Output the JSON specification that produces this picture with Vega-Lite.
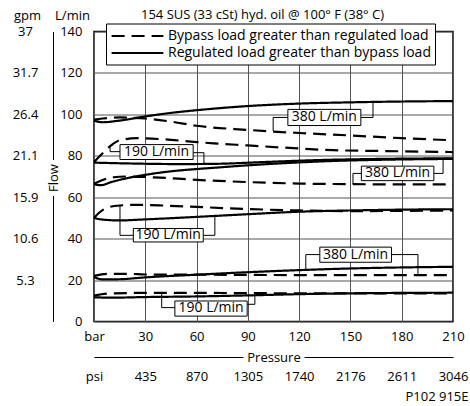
{
 "$schema": "https://vega.github.io/schema/vega-lite/v6.json",
 "width": 359, "height": 290,
 "autosize": {"type": "none"},
 "padding": {"left": 94, "top": 31.5, "right": 17, "bottom": 84.5},
 "background": "white",
 "config": {
  "font": "Open Sans",
  "view": {"stroke": "black", "strokeWidth": 1.5},
  "axis": {"labelFontSize": 13, "labelColor": "black", "titleFontSize": 13, "titleFontWeight": "normal", "titleColor": "black", "labelFlush": false, "labelOverlap": false, "labelBound": false, "ticks": false}
 },
 "title": {"text": "154 SUS (33 cSt) hyd. oil @ 100° F (38° C)", "fontSize": 13, "fontWeight": "normal", "color": "black", "anchor": "middle", "dx": -11, "dy": 16, "frame": "group", "offset": 4},
 "datasets": {
  "curves": [
   {"s":"A_s","t":"R","b":0,"f":97},{"s":"A_s","t":"R","b":5,"f":96.2},{"s":"A_s","t":"R","b":15,"f":97},{"s":"A_s","t":"R","b":30,"f":99},{"s":"A_s","t":"R","b":45,"f":100.7},{"s":"A_s","t":"R","b":60,"f":102},{"s":"A_s","t":"R","b":90,"f":104},{"s":"A_s","t":"R","b":120,"f":105.2},{"s":"A_s","t":"R","b":150,"f":105.8},{"s":"A_s","t":"R","b":180,"f":106.2},{"s":"A_s","t":"R","b":210,"f":106.4},
   {"s":"A_d","t":"B","b":0,"f":97.5},{"s":"A_d","t":"B","b":5,"f":98},{"s":"A_d","t":"B","b":15,"f":98.5},{"s":"A_d","t":"B","b":30,"f":98},{"s":"A_d","t":"B","b":45,"f":96.5},{"s":"A_d","t":"B","b":60,"f":94.5},{"s":"A_d","t":"B","b":90,"f":92.5},{"s":"A_d","t":"B","b":120,"f":91},{"s":"A_d","t":"B","b":150,"f":89.8},{"s":"A_d","t":"B","b":180,"f":88.5},{"s":"A_d","t":"B","b":210,"f":87.5},
   {"s":"B_d","t":"B","b":0,"f":77},{"s":"B_d","t":"B","b":3,"f":79.5},{"s":"B_d","t":"B","b":6,"f":82},{"s":"B_d","t":"B","b":10,"f":85},{"s":"B_d","t":"B","b":15,"f":87.5},{"s":"B_d","t":"B","b":25,"f":88.5},{"s":"B_d","t":"B","b":40,"f":88},{"s":"B_d","t":"B","b":55,"f":87},{"s":"B_d","t":"B","b":70,"f":86},{"s":"B_d","t":"B","b":90,"f":85},{"s":"B_d","t":"B","b":110,"f":84},{"s":"B_d","t":"B","b":140,"f":82.7},{"s":"B_d","t":"B","b":170,"f":82.3},{"s":"B_d","t":"B","b":210,"f":81.8},
   {"s":"B_s","t":"R","b":0,"f":76.7},{"s":"B_s","t":"R","b":20,"f":76.3},{"s":"B_s","t":"R","b":50,"f":76},{"s":"B_s","t":"R","b":70,"f":76.1},{"s":"B_s","t":"R","b":100,"f":77},{"s":"B_s","t":"R","b":130,"f":77.9},{"s":"B_s","t":"R","b":160,"f":78.4},{"s":"B_s","t":"R","b":210,"f":78.8},
   {"s":"C_s","t":"R","b":0,"f":66.3},{"s":"C_s","t":"R","b":4,"f":65.8},{"s":"C_s","t":"R","b":10,"f":67.3},{"s":"C_s","t":"R","b":20,"f":69.3},{"s":"C_s","t":"R","b":30,"f":70.8},{"s":"C_s","t":"R","b":45,"f":72.5},{"s":"C_s","t":"R","b":60,"f":73.6},{"s":"C_s","t":"R","b":70,"f":74.2},{"s":"C_s","t":"R","b":90,"f":75.4},{"s":"C_s","t":"R","b":120,"f":76.8},{"s":"C_s","t":"R","b":140,"f":77.5},{"s":"C_s","t":"R","b":170,"f":78.1},{"s":"C_s","t":"R","b":210,"f":78.5},
   {"s":"C_d","t":"B","b":0,"f":66.5},{"s":"C_d","t":"B","b":5,"f":68.3},{"s":"C_d","t":"B","b":10,"f":69.5},{"s":"C_d","t":"B","b":20,"f":70},{"s":"C_d","t":"B","b":35,"f":69.6},{"s":"C_d","t":"B","b":60,"f":68.4},{"s":"C_d","t":"B","b":90,"f":67.3},{"s":"C_d","t":"B","b":120,"f":66.6},{"s":"C_d","t":"B","b":150,"f":66.3},{"s":"C_d","t":"B","b":180,"f":66.2},{"s":"C_d","t":"B","b":210,"f":66.2},
   {"s":"D_s","t":"R","b":0,"f":50},{"s":"D_s","t":"R","b":5,"f":49.2},{"s":"D_s","t":"R","b":15,"f":48.8},{"s":"D_s","t":"R","b":30,"f":49.3},{"s":"D_s","t":"R","b":60,"f":50.5},{"s":"D_s","t":"R","b":90,"f":51.8},{"s":"D_s","t":"R","b":120,"f":53},{"s":"D_s","t":"R","b":150,"f":53.6},{"s":"D_s","t":"R","b":180,"f":54},{"s":"D_s","t":"R","b":210,"f":54.2},
   {"s":"D_d","t":"B","b":0,"f":50},{"s":"D_d","t":"B","b":3,"f":52.5},{"s":"D_d","t":"B","b":8,"f":55},{"s":"D_d","t":"B","b":15,"f":56},{"s":"D_d","t":"B","b":25,"f":56.3},{"s":"D_d","t":"B","b":40,"f":56},{"s":"D_d","t":"B","b":60,"f":55.3},{"s":"D_d","t":"B","b":90,"f":54.3},{"s":"D_d","t":"B","b":120,"f":53.6},{"s":"D_d","t":"B","b":150,"f":53.3},{"s":"D_d","t":"B","b":180,"f":53.4},{"s":"D_d","t":"B","b":210,"f":53.6},
   {"s":"E_s","t":"R","b":0,"f":21.5},{"s":"E_s","t":"R","b":5,"f":20.3},{"s":"E_s","t":"R","b":15,"f":20.4},{"s":"E_s","t":"R","b":30,"f":21.3},{"s":"E_s","t":"R","b":60,"f":22.6},{"s":"E_s","t":"R","b":90,"f":23.8},{"s":"E_s","t":"R","b":120,"f":24.8},{"s":"E_s","t":"R","b":150,"f":25.6},{"s":"E_s","t":"R","b":180,"f":26.1},{"s":"E_s","t":"R","b":210,"f":26.4},
   {"s":"E_d","t":"B","b":0,"f":22},{"s":"E_d","t":"B","b":8,"f":23},{"s":"E_d","t":"B","b":20,"f":23},{"s":"E_d","t":"B","b":30,"f":22.7},{"s":"E_d","t":"B","b":60,"f":22.6},{"s":"E_d","t":"B","b":90,"f":22.5},{"s":"E_d","t":"B","b":120,"f":22.4},{"s":"E_d","t":"B","b":150,"f":22.4},{"s":"E_d","t":"B","b":180,"f":22.4},{"s":"E_d","t":"B","b":210,"f":22.4},
   {"s":"F_s","t":"R","b":0,"f":11.7},{"s":"F_s","t":"R","b":10,"f":11.5},{"s":"F_s","t":"R","b":30,"f":11.8},{"s":"F_s","t":"R","b":60,"f":12.1},{"s":"F_s","t":"R","b":90,"f":12.6},{"s":"F_s","t":"R","b":120,"f":13.2},{"s":"F_s","t":"R","b":150,"f":13.6},{"s":"F_s","t":"R","b":180,"f":13.8},{"s":"F_s","t":"R","b":210,"f":13.9},
   {"s":"F_d","t":"B","b":0,"f":12.5},{"s":"F_d","t":"B","b":8,"f":13.5},{"s":"F_d","t":"B","b":30,"f":13.8},{"s":"F_d","t":"B","b":60,"f":13.8},{"s":"F_d","t":"B","b":90,"f":13.7},{"s":"F_d","t":"B","b":120,"f":13.6},{"s":"F_d","t":"B","b":150,"f":13.6},{"s":"F_d","t":"B","b":180,"f":13.6},{"s":"F_d","t":"B","b":210,"f":13.6}
  ],
  "links": [
   {"c":"Al","o":1,"b":113.4,"f":98.5},{"c":"Al","o":2,"b":104.8,"f":98.5},{"c":"Al","o":3,"b":104.8,"f":92},
   {"c":"Ar","o":1,"b":156.1,"f":98.5},{"c":"Ar","o":2,"b":163.2,"f":98.5},{"c":"Ar","o":3,"b":163.2,"f":106},
   {"c":"Bl","o":1,"b":15.2,"f":82},{"c":"Bl","o":2,"b":9.4,"f":82},{"c":"Bl","o":3,"b":9.4,"f":84.3},{"c":"Bl","o":4,"b":11.3,"f":85.7},
   {"c":"Br","o":1,"b":58,"f":81.5},{"c":"Br","o":2,"b":64.3,"f":81.5},{"c":"Br","o":3,"b":64.3,"f":76.2},
   {"c":"Cl","o":1,"b":156.4,"f":71.5},{"c":"Cl","o":2,"b":151.5,"f":71.5},{"c":"Cl","o":3,"b":151.5,"f":66.3},
   {"c":"Cr","o":1,"b":198.8,"f":71.5},{"c":"Cr","o":2,"b":204.2,"f":71.5},{"c":"Cr","o":3,"b":204.2,"f":78.5},
   {"c":"Dl","o":1,"b":23,"f":41.6},{"c":"Dl","o":2,"b":15.2,"f":41.6},{"c":"Dl","o":3,"b":15.2,"f":56},
   {"c":"Dr","o":1,"b":63.9,"f":41.6},{"c":"Dr","o":2,"b":70.7,"f":41.6},{"c":"Dr","o":3,"b":70.7,"f":51},
   {"c":"El","o":1,"b":132.1,"f":32.3},{"c":"El","o":2,"b":123.9,"f":32.3},{"c":"El","o":3,"b":123.9,"f":24.7},
   {"c":"Er","o":1,"b":174,"f":32.3},{"c":"Er","o":2,"b":189.5,"f":32.3},{"c":"Er","o":3,"b":189.5,"f":22.4},
   {"c":"Fl","o":1,"b":47.3,"f":6.7},{"c":"Fl","o":2,"b":39.6,"f":6.7},{"c":"Fl","o":3,"b":39.6,"f":13.8},
   {"c":"Fr","o":1,"b":89.6,"f":8.3},{"c":"Fr","o":2,"b":94.1,"f":8.3},{"c":"Fr","o":3,"b":94.1,"f":12.6}
  ],
  "boxes": [
   {"lab":"380 L/min","b1":113.4,"b2":156.1,"f1":94.6,"f2":102.4,"tb":134.7,"tf":98.5},
   {"lab":"190 L/min","b1":15.2,"b2":58,"f1":78.2,"f2":85.4,"tb":36.6,"tf":81.8},
   {"lab":"380 L/min","b1":156.4,"b2":198.8,"f1":68,"f2":75,"tb":177.6,"tf":71.5},
   {"lab":"190 L/min","b1":23,"b2":63.9,"f1":38.4,"f2":44.9,"tb":43.4,"tf":41.6},
   {"lab":"380 L/min","b1":132.1,"b2":174,"f1":28.6,"f2":35.9,"tb":153,"tf":32.3},
   {"lab":"190 L/min","b1":47.3,"b2":89.6,"f1":2.6,"f2":9.9,"tb":68.5,"tf":6.3}
  ]
 },
 "layer": [
  {
   "data": {"name": "curves"},
   "mark": {"type": "line", "strokeWidth": 2.2, "color": "black", "interpolate": "monotone"},
   "encoding": {
    "x": {"field": "b", "type": "quantitative", "scale": {"domain": [0, 210], "nice": false},
     "axis": {"orient": "bottom", "values": [0,30,60,90,120,150,180,210], "labelExpr": "datum.value == 0 ? 'bar' : datum.label", "grid": true, "gridColor": "#555", "gridWidth": 1, "domain": false, "labelPadding": 9, "title": "Pressure", "titleX": 179.5, "titleY": 35.5, "titleBaseline": "middle", "titleAlign": "center"}},
    "y": {"field": "f", "type": "quantitative", "scale": {"domain": [0, 140], "nice": false},
     "axis": {"orient": "left", "values": [0,20,40,60,80,100,120,140], "grid": true, "gridColor": "#555", "gridWidth": 1, "domain": false, "labelPadding": 12, "title": "L/min", "titleAngle": 0, "titleX": -22, "titleY": -16, "titleAlign": "center", "titleBaseline": "middle"}},
    "detail": {"field": "s"},
    "strokeDash": {"field": "t", "type": "nominal", "scale": {"domain": ["B", "R"], "range": [[13, 7], [1, 0]]},
     "legend": {"title": null, "orient": "none", "legendX": 12, "legendY": -8, "direction": "vertical", "fillColor": "white", "strokeColor": "black", "padding": 4, "symbolType": "M-3.7,0L3.7,0", "symbolSize": 196, "symbolOffset": 19, "symbolStrokeWidth": 2.2, "symbolStrokeColor": "black", "symbolFillColor": "transparent", "labelFontSize": 14, "labelColor": "black", "labelOffset": 22, "rowPadding": 1, "labelLimit": 400, "labelExpr": "datum.label == 'B' ? 'Bypass load greater than regulated load' : 'Regulated load greater than bypass load'"}}
   }
  },
  {
   "data": {"name": "links"},
   "mark": {"type": "line", "strokeWidth": 1, "color": "black"},
   "encoding": {
    "x": {"field": "b", "type": "quantitative",
     "axis": {"orient": "bottom", "offset": 35.5, "values": [0,30,60,90,120,150,180,210], "labelExpr": "datum.value == 0 ? 'psi' : datum.value == 30 ? '435' : datum.value == 60 ? '870' : datum.value == 90 ? '1305' : datum.value == 120 ? '1740' : datum.value == 150 ? '2176' : datum.value == 180 ? '2611' : '3046'", "grid": false, "domain": true, "domainColor": "black", "domainWidth": 1, "domainDash": [149, 61, 400], "labelPadding": 13, "title": "P102 915E", "titleX": 374, "titleY": 39, "titleAlign": "right", "titleBaseline": "middle"}},
    "y": {"field": "f", "type": "quantitative",
     "axis": {"orient": "left", "offset": 41, "values": [20,40,60,80,100,120,140], "labelExpr": "datum.value == 140 ? '37' : datum.value == 120 ? '31.7' : datum.value == 100 ? '26.4' : datum.value == 80 ? '21.1' : datum.value == 60 ? '15.9' : datum.value == 40 ? '10.6' : '5.3'", "grid": false, "domain": true, "domainColor": "black", "domainWidth": 1, "domainDash": [126, 36, 400], "labelAlign": "center", "labelPadding": 28, "title": "Flow", "titleAngle": -90, "titleX": 0, "titleY": 146, "titleAlign": "center", "titleBaseline": "middle"}},
    "detail": {"field": "c"},
    "order": {"field": "o"}
   }
  },
  {
   "data": {"name": "boxes"},
   "mark": {"type": "rect", "fill": "white", "stroke": "black", "strokeWidth": 1},
   "encoding": {
    "x": {"field": "b1", "type": "quantitative", "axis": null},
    "x2": {"field": "b2"},
    "y": {"field": "f1", "type": "quantitative",
     "axis": {"orient": "left", "labels": false, "domain": false, "grid": false, "title": "gpm", "titleAngle": 0, "titleX": -67, "titleY": -16, "titleAlign": "center", "titleBaseline": "middle"}},
    "y2": {"field": "f2"}
   }
  },
  {
   "data": {"name": "boxes"},
   "mark": {"type": "text", "fontSize": 14, "color": "black", "align": "center", "baseline": "middle"},
   "encoding": {
    "x": {"field": "tb", "type": "quantitative", "axis": null},
    "y": {"field": "tf", "type": "quantitative", "axis": null},
    "text": {"field": "lab"}
   }
  }
 ],
 "resolve": {"axis": {"x": "independent", "y": "independent"}}
}
